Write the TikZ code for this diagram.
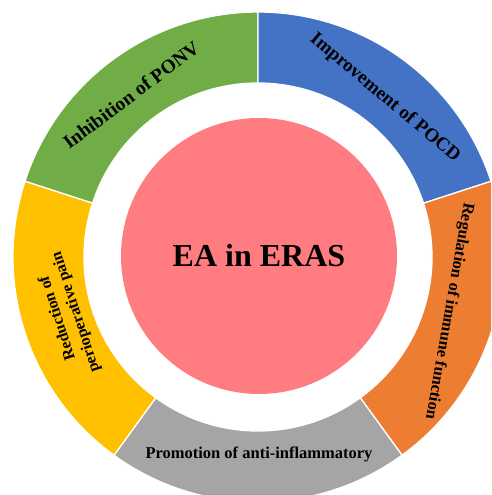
\documentclass[tikz,border=0pt]{standalone}
\usepackage{fontspec}
\setmainfont{Liberation Serif}
\begin{document}
\begin{tikzpicture}[x=1pt,y=1pt,
  sector/.style={draw=white,line width=1.3pt},
  lbl/.style={font=\bfseries\fontsize{#1}{\dimexpr #1pt*12/10\relax}\selectfont,text=black,inner sep=0pt,align=center},
  lbl/.default=17]
\definecolor{cgreen}{HTML}{70AD47}
\definecolor{cblue}{HTML}{4472C4}
\definecolor{corange}{HTML}{ED7D31}
\definecolor{cgray}{HTML}{A5A5A5}
\definecolor{cyellow}{HTML}{FFC000}
\definecolor{cpink}{HTML}{FF7C80}
\useasboundingbox (-258,-238) rectangle (233,257);
\clip (-258,-238) rectangle (233,257);
\fill[white] (-258,-238) rectangle (233,257);
% five ring sectors, 72 degrees each
\def\Ro{245}\def\Ri{174}
\foreach \a/\c in {90/cgreen,18/cblue,-54/corange,-126/cgray,162/cyellow}{
  \filldraw[sector,fill=\c] (\a:\Ro) arc[start angle=\a,end angle=\a+72,radius=\Ro]
    -- ({\a+72}:\Ri) arc[start angle=\a+72,end angle=\a,radius=\Ri] -- cycle;
}
% central disc
\node[circle,fill=cpink,minimum size=276pt,inner sep=0pt] (core) at (1,1) {};
\node[lbl=32] (title) at (1,1) {EA in ERAS};
% ring labels
\node[lbl=19.5,rotate=37] (ponv) at (-127,162) {Inhibition of PONV};
\node[lbl=19,rotate=-40] (pocd) at (127,159) {Improvement of POCD};
\node[lbl=16.5,rotate=-100] (immune) at (191,-54) {Regulation of immune function};
\node[lbl=16.5] (inflam) at (1,-197) {Promotion of anti-inflammatory};
\node[lbl=16,rotate=108] (pain) at (-191,-58) {Reduction of\\perioperative pain};
\end{tikzpicture}
\end{document}
